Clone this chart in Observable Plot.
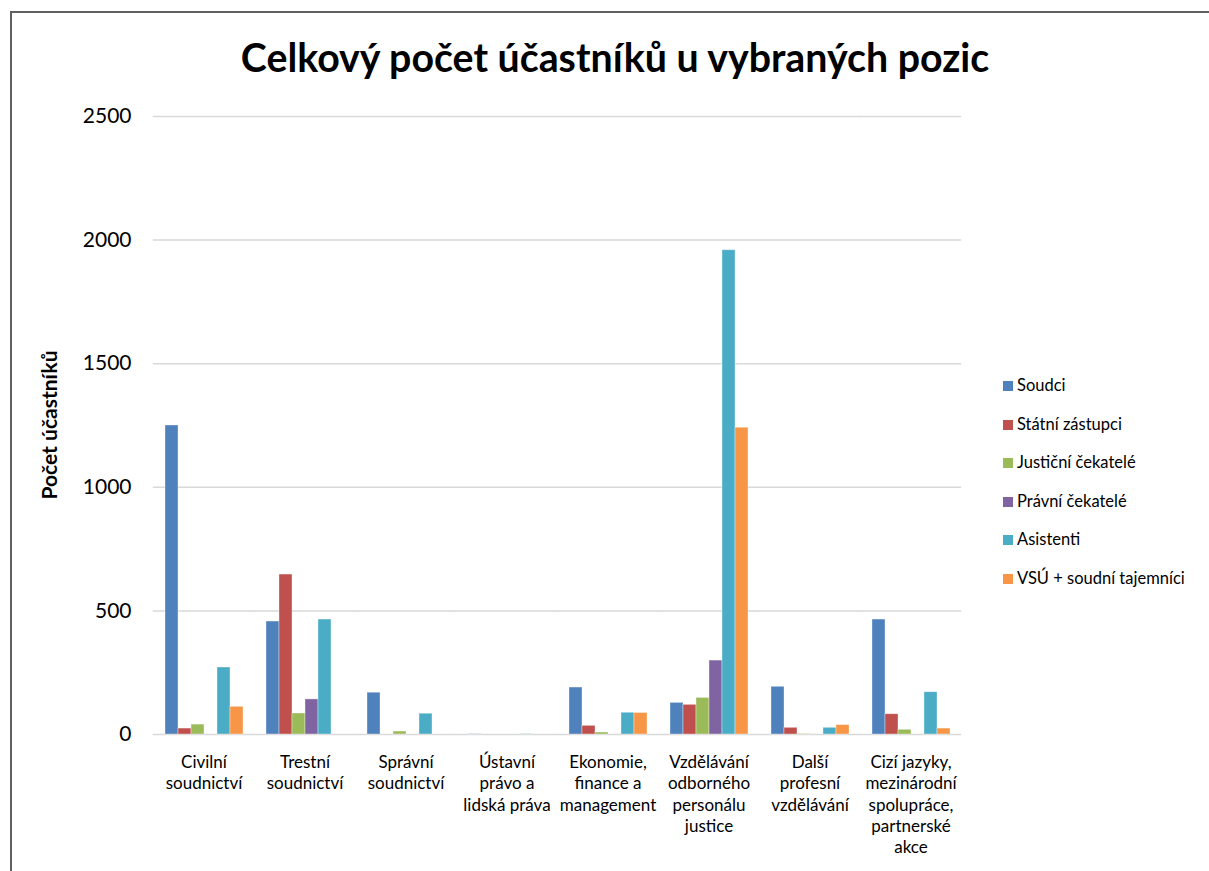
<!DOCTYPE html>
<html>
<head>
<meta charset="utf-8">
<script src="https://cdn.jsdelivr.net/npm/d3@7"></script>
<script src="https://cdn.jsdelivr.net/npm/@observablehq/plot@0.6"></script>
<style>
  html, body { margin: 0; padding: 0; background: #fff; }
  body { font-family: Lato, "Open Sans", sans-serif; color: #000; }
  #wrap { position: relative; width: 1209px; height: 871px; overflow: hidden; background: #fff; }
  #frame { position: absolute; left: 10px; top: 11px; width: 1205px; height: 870px;
           border-left: 2px solid #606060; border-top: 2px solid #606060; box-sizing: border-box; }
  #title { position: absolute; left: 0; top: 0; width: 1230px; height: 90px; text-align: center;
           font-weight: 700; font-size: 39.3px; line-height: 39px; padding-top: 37px; box-sizing: border-box; white-space: nowrap; }
  #chart { position: absolute; left: 0; top: 90px; }
  #ytitle { position: absolute; left: 48px; top: 425px; transform: translate(-50%, -50%) rotate(-90deg);
            white-space: nowrap; font-weight: 700; font-size: 21px; }
  #legend { position: absolute; left: 1003px; top: 0; }
  .li { position: absolute; left: 0; white-space: nowrap; font-size: 16.5px; line-height: 20px; height: 20px; }
  .sw { display: inline-block; width: 10px; height: 10px; margin-right: 4px; vertical-align: 0px; }
</style>
</head>
<body>
<div id="wrap">
  <div id="frame"></div>
  <div id="title">Celkový počet účastníků u vybraných pozic</div>
  <div id="chart"></div>
  <div id="ytitle">Počet účastníků</div>
  <div id="legend"></div>
</div>
<script>
// Categories (x groups) and their wrapped tick labels
const categories = ["Civilní soudnictví", "Trestní soudnictví", "Správní soudnictví",
  "Ústavní právo a lidská práva", "Ekonomie, finance a management",
  "Vzdělávání odborného personálu justice", "Další profesní vzdělávání",
  "Cizí jazyky, mezinárodní spolupráce, partnerské akce"];
const categoryLabels = ["Civilní\nsoudnictví", "Trestní\nsoudnictví", "Správní\nsoudnictví",
  "Ústavní\nprávo a\nlidská práva", "Ekonomie,\nfinance a\nmanagement",
  "Vzdělávání\nodborného\npersonálu\njustice", "Další\nprofesní\nvzdělávání",
  "Cizí jazyky,\nmezinárodní\nspolupráce,\npartnerské\nakce"];

// Series
const series = ["Soudci", "Státní zástupci", "Justiční čekatelé", "Právní čekatelé", "Asistenti", "VSÚ + soudní tajemníci"];
const seriesColors = ["#4F81BD", "#C0504D", "#9BBB59", "#8064A2", "#4BACC6", "#F79646"];

// Values per series (one per category)
const soudci           = [1250, 457, 169, 1, 190, 128, 193, 465];
const statniZastupci   = [24, 647, 0, 0, 35, 120, 27, 82];
const justicniCekatele = [40, 85, 12, 0, 8, 148, 2, 19];
const pravniCekatele   = [0, 142, 0, 0, 0, 299, 0, 0];
const asistenti        = [271, 465, 84, 1, 88, 1959, 27, 171];
const vsu              = [112, 0, 0, 0, 87, 1241, 38, 24];

const yTicks = [0, 500, 1000, 1500, 2000, 2500];

const seriesValues = [soudci, statniZastupci, justicniCekatele, pravniCekatele, asistenti, vsu];
const data = [];
categories.forEach((c, i) => {
  series.forEach((s, j) => data.push({category: c, series: s, value: seriesValues[j][i]}));
});

const labelOf = new Map(categories.map((c, i) => [c, categoryLabels[i]]));

const chart = Plot.plot({
  width: 1000,
  height: 781,
  marginTop: 26,
  marginBottom: 137,
  marginLeft: 152,
  marginRight: 38,
  style: {fontFamily: "Lato, 'Open Sans', sans-serif", color: "#000", background: "transparent", overflow: "visible"},
  fx: {domain: categories, paddingInner: 0.2, paddingOuter: 0.1, label: null},
  x: {domain: series, padding: 0, axis: null},
  y: {domain: [0, 2500], label: null},
  color: {domain: series, range: seriesColors},
  marks: [
    Plot.ruleY(yTicks, {stroke: "#d9d9d9", strokeWidth: 1.5, insetLeft: -10.2, insetRight: -10.2}),
    Plot.barY(data, {fx: "category", x: "series", y: "value", fill: "series",
      stroke: "#ffffff", strokeOpacity: 0.45, strokeWidth: 0.8}),
    Plot.axisY({ticks: yTicks, tickSize: 0, tickPadding: 32, fontSize: 21,
      tickFormat: d => String(d), label: null}),
    Plot.axisFx({anchor: "bottom", tickSize: 0, tickPadding: 18, fontSize: 17,
      lineHeight: 1.26, tickFormat: d => labelOf.get(d), label: null})
  ]
});
document.getElementById("chart").appendChild(chart);

// Legend
const legend = document.getElementById("legend");
const rowCenters0 = 385, rowStep = 38.6;
series.forEach((s, i) => {
  const row = document.createElement("div");
  row.className = "li";
  row.style.top = (rowCenters0 + i * rowStep - 10) + "px";
  const sw = document.createElement("span");
  sw.className = "sw";
  sw.style.background = seriesColors[i];
  row.appendChild(sw);
  row.appendChild(document.createTextNode(s));
  legend.appendChild(row);
});
</script>
</body>
</html>
